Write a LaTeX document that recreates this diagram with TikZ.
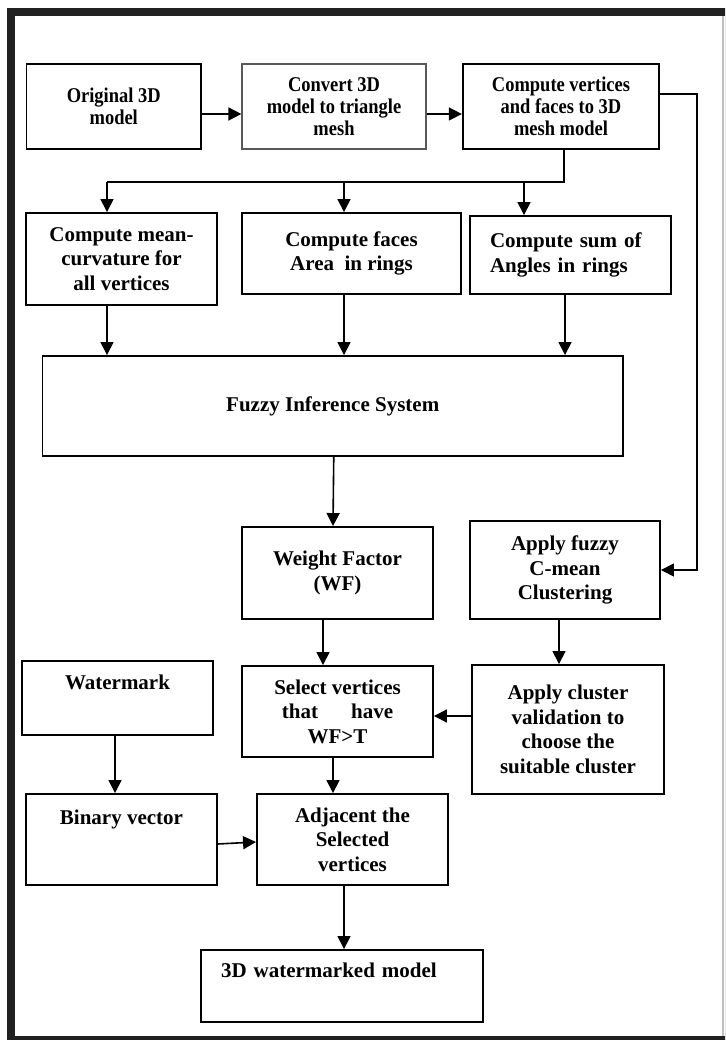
\documentclass[tikz,border=0pt]{standalone}
\usepackage{fontspec}
\setmainfont{Liberation Serif}
\newfontfamily\narrowserif[FakeStretch=0.88]{Liberation Serif}
\usetikzlibrary{arrows.meta}

\begin{document}
\begin{tikzpicture}[
    x=1pt, y=1pt,
    every node/.style={
        font=\bfseries\fontsize{21}{24.5}\selectfont,
        align=center,
        inner sep=2pt,
    },
    block/.style={draw, line width=1.9pt},
    toprow/.style={font=\narrowserif\bfseries\fontsize{21}{22}\selectfont},
    link/.style={line width=1.6pt, -{Triangle[length=13pt,width=13pt]}},
  ]
  \useasboundingbox (0,0) rectangle (725,1040);
  \begin{scope}
    \clip (0,0) rectangle (725,1040);
    \draw[line width=8pt, black!87] (11,1028) rectangle (729,0);
    \draw[line width=1.2pt, black!25] (723,1024) -- (723,4);
  \end{scope}

  \node[block, toprow, minimum width=174.5pt, minimum height=85pt] (orig) at (113.75,933.5) {Original 3D\\model};
  \node[block, toprow, draw=black!65, line width=1.2pt, minimum width=184pt, minimum height=85pt] (convert) at (334,933.5) {Convert 3D\\model to triangle\\mesh};
  \node[block, toprow, line width=2.3pt, minimum width=196pt, minimum height=85pt] (meshmodel) at (561,933.5) {Compute vertices\\and faces to 3D\\mesh model};

  \node[block, minimum width=191pt, minimum height=92pt] (meancurv) at (121.5,781) {Compute mean-\\curvature for\\all vertices};
  \node[block, minimum width=219pt, minimum height=81pt] (facearea) at (351.5,786.5) {Compute faces\\Area\ \ in rings};
  \node[block, text width=161pt, inner xsep=20pt, align=left, minimum height=78pt] (anglesum) at (570.5,785) {Compute sum of\\Angles in rings};

  \node[block, minimum width=580.5pt, minimum height=100pt] (fis) at (332.75,634) {Fuzzy Inference System};

  \node[block, minimum width=191pt, minimum height=92pt] (weight) at (337.5,467) {Weight Factor\\(WF)};
  \node[block, minimum width=190pt, minimum height=98pt] (fcm) at (565,470) {Apply fuzzy\\C-mean\\Clustering};

  \node[block, minimum width=191pt, minimum height=74pt] (watermark) at (117.5,342) {Watermark\\ \strut};
  \node[block, minimum width=191pt, minimum height=91pt] (select) at (337.5,328.5) {Select vertices\\that\hspace{33pt}have\\WF>T};
  \node[block, minimum width=192pt, minimum height=129pt] (validate) at (568,310.5) {Apply cluster\\validation to\\choose the\\suitable cluster};

  \node[block, minimum width=191pt, minimum height=91pt] (binary) at (121.5,200.5) {Binary vector\\[12pt]\strut};
  \node[block, minimum width=191pt, minimum height=91pt] (adjacent) at (352.5,200.5) {Adjacent the\\Selected\\vertices};

  \node[block, text width=242pt, inner xsep=20pt, align=left, minimum height=72pt] (result) at (342,54) {3D watermarked model\\ \strut};

  \draw[link] ([yshift=-7.5pt]orig.east) -- ([yshift=-7.5pt]convert.west);
  \draw[link] ([yshift=-7.5pt]convert.east) -- ([yshift=-7.5pt]meshmodel.west);
  \draw[link] ([yshift=12.5pt]meshmodel.east) -| ([xshift=36pt]fcm.east) -- (fcm.east);

  \draw[line width=1.6pt] ([xshift=3pt]meshmodel.south) |- ([shift={(-14.5pt,30pt)}]meancurv.north);
  \draw[link] ([shift={(-14.5pt,30pt)}]meancurv.north) -- ([xshift=-14.5pt]meancurv.north);
  \draw[link] ([shift={(-7.5pt,30pt)}]facearea.north) -- ([xshift=-7.5pt]facearea.north);
  \draw[link] ([shift={(-46.5pt,33pt)}]anglesum.north) -- ([xshift=-46.5pt]anglesum.north);

  \draw[link] ([xshift=-14.5pt]meancurv.south) -- ([xshift=-225.75pt]fis.north);
  \draw[link] ([xshift=-7.5pt]facearea.south) -- ([xshift=11.25pt]fis.north);
  \draw[link] ([xshift=-5.5pt]anglesum.south) -- ([xshift=232.25pt]fis.north);

  \draw[link] ([xshift=1pt]fis.south) -- ([xshift=-4.5pt]weight.north);
  \draw[link] ([xshift=-14.5pt]weight.south) -- ([xshift=-14.5pt]select.north);
  \draw[link] ([xshift=-6pt]fcm.south) -- ([xshift=-9pt]validate.north);
  \draw[link] ([yshift=13.5pt]validate.west) -- ([yshift=-4.5pt]select.east);

  \draw[link] ([xshift=-2.5pt]watermark.south) -- ([xshift=-6.5pt]binary.north);
  \draw[link] ([xshift=-4.5pt]select.south) -- ([xshift=-19.5pt]adjacent.north);
  \draw[link] ([yshift=-4.5pt]binary.east) -- ([yshift=-2.5pt]adjacent.west);
  \draw[link] ([xshift=-8.5pt]adjacent.south) -- ([xshift=2pt]result.north);
\end{tikzpicture}
\end{document}
